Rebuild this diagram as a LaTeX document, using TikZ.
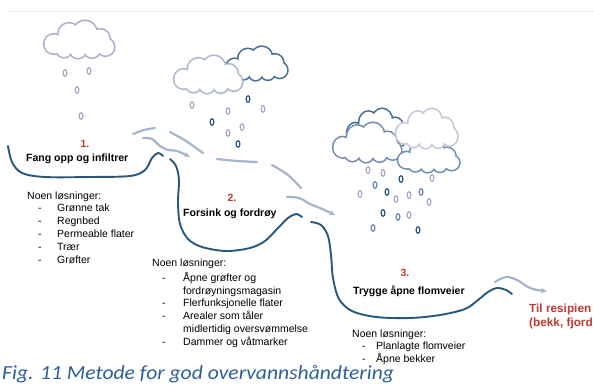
\documentclass[tikz,border=0pt]{standalone}
\usepackage{fontspec}
\setmainfont{Liberation Sans}
\newfontfamily\capfont{Carlito}
\usetikzlibrary{arrows.meta}

\definecolor{terrain}{RGB}{40,88,124}
\definecolor{flow}{RGB}{165,182,204}
\definecolor{redlbl}{RGB}{192,57,50}
\definecolor{capblue}{RGB}{46,96,150}
\definecolor{dropL}{RGB}{165,172,202}
\definecolor{dropM}{RGB}{106,138,178}
\definecolor{dropD}{RGB}{42,88,134}
\definecolor{cloudLight}{RGB}{170,176,204}
\definecolor{cloudPale}{RGB}{170,182,204}
\definecolor{cloudDark}{RGB}{72,110,148}
\definecolor{cloudMid}{RGB}{112,142,180}
\definecolor{cloudGrey}{RGB}{196,200,214}

\tikzset{
  terrainline/.style={draw=terrain, line width=1.9pt, line cap=round},
  flowline/.style={draw=flow, line width=2.2pt, line cap=round},
  flowarrow/.style={flowline, -{Stealth[length=6pt,width=5pt]}},
  raindrop/.style={draw=#1, line width=1.2pt},
  txt/.style={anchor=base west, inner sep=0pt, font=\fontsize{10.5}{12}\selectfont},
  btxt/.style={anchor=base west, inner sep=0pt, font=\fontsize{10.5}{12}\selectfont\bfseries},
  numlbl/.style={anchor=base, inner sep=0pt, text=redlbl, font=\fontsize{10.5}{12}\selectfont\bfseries},
  redtxt/.style={anchor=base west, inner sep=0pt, text=redlbl, font=\fontsize{11.8}{14}\selectfont\bfseries},
  % cloud outline: thick strokes of the puffs, then white fills leave the outer edge
  pics/cloud/.style={code={
    \foreach \cx/\cy/\rx/\ry in {11/24/9.5/9.5, 26/14/10.5/10.5, 42/12.5/11.5/11.5,
        57/19/9.5/9.5, 62.5/27/8.5/8.5, 49/30/7.5/7.5, 35/30.5/7.5/7.5, 21/29.5/7.5/7.5,
        36/22/20/9}
      \draw[line width=3.2pt] (\cx,\cy) ellipse[x radius=\rx, y radius=\ry];
    \foreach \cx/\cy/\rx/\ry in {11/24/9.5/9.5, 26/14/10.5/10.5, 42/12.5/11.5/11.5,
        57/19/9.5/9.5, 62.5/27/8.5/8.5, 49/30/7.5/7.5, 35/30.5/7.5/7.5, 21/29.5/7.5/7.5,
        36/22/20/9}
      \fill[white] (\cx,\cy) ellipse[x radius=\rx, y radius=\ry];
  }},
}

\begin{document}
\begin{tikzpicture}[x=1pt, y=-1pt]
\useasboundingbox (0,0) rectangle (594,385);
\clip (0,0) rectangle (594,385);
\fill[white] (0,0) rectangle (594,385);

% faint rule along the top
\draw[black!5, line width=0.8pt] (5,11) -- (594,11);

% clouds (base size 72 x 38)
\pic[color=cloudLight] at (43,20) {cloud};
\pic[color=cloudDark, xscale=63/72, yscale=34/38] at (225,46) {cloud};
\pic[color=cloudPale, xscale=70/72, yscale=38/38] at (173,55) {cloud};
\pic[color=cloudDark, xscale=62/72, yscale=40/38] at (346,108) {cloud};
\pic[color=cloudMid, xscale=70/72, yscale=40/38] at (332,122) {cloud};
\pic[color=cloudMid, xscale=63/72, yscale=32/38] at (397,140) {cloud};
\pic[color=cloudGrey, xscale=63/72, yscale=40/38] at (395,108) {cloud};

% rain drops
\foreach \x/\y/\c in {65/73/dropL, 89/71/dropL, 77/90/dropL, 81/116/dropL,
    192/105/dropL, 248/99/dropD, 263/109/dropL, 228/111/dropL, 212/122/dropD,
    242/127/dropL, 228/133/dropL, 238/144/dropD,
    368/170/dropL, 383/173/dropL, 401/179/dropD, 432/178/dropL, 375/185/dropM,
    360/194/dropL, 387/192/dropD, 396/199/dropL, 409/195/dropL, 421/192/dropM,
    429/202/dropL, 383/213/dropD, 398/217/dropM, 409/215/dropL, 373/228/dropM,
    418/230/dropD}
  \draw[raindrop=\c] (\x,\y) ellipse[x radius=1.9, y radius=3.3];

% terrain profile
\draw[terrainline] plot[smooth, tension=0.55] coordinates {
  (8,146) (12,162) (22,173) (45,177) (90,177) (130,176) (145,170) (152,158) (158,153) (163,156)};
\draw[terrainline] plot[smooth, tension=0.55] coordinates {
  (170,159) (176,166) (179,180) (178,202) (180,224) (188,239) (202,247) (226,251)
  (250,248) (265,241) (278,228) (288,218) (296,214) (302,217)};
\draw[terrainline] plot[smooth, tension=0.55] coordinates {
  (311,222) (321,225) (328,236) (331,255) (333,278) (339,299) (352,311) (376,317)
  (410,318) (440,315) (465,309) (478,300) (488,292) (497,288) (506,290) (512,294)};

% surface runoff
\draw[flowline] plot[smooth] coordinates {(133,134) (144,130) (155,128)};
\draw[flowarrow] plot[smooth, tension=0.6] coordinates {
  (143,138) (152,139) (160,146) (168,150) (177,151) (190,157)};
\draw[flowline] plot[smooth] coordinates {(170,132) (186,141) (203,153)};
\draw[flowline] plot[smooth] coordinates {(217,159) (237,161) (257,162)};
\draw[flowline] plot[smooth] coordinates {(272,165) (288,175) (301,188)};
\draw[flowarrow] plot[smooth, tension=0.6] coordinates {
  (287,197) (299,198) (310,204) (320,208) (335,215)};
\draw[flowarrow] plot[smooth, tension=0.6] coordinates {
  (495,282) (506,277) (517,280) (528,287) (537,290) (547,291)};

% step 1
\node[numlbl] (n1) at (85,147) {1.};
\node[btxt] (t1) at (26,161) {Fang opp og infiltrer};
\node[txt] (l1) at (27,199) {Noen løsninger:};
\foreach \y/\s [count=\i] in {211/Grønne tak, 224/Regnbed, 237/Permeable flater, 250/Trær, 263/Grøfter} {
  \node[txt] (l1d\i) at (38,\y) {-};
  \node[txt] (l1t\i) at (57,\y) {\s};
}

% step 2
\node[numlbl] (n2) at (232,201) {2.};
\node[btxt] (t2) at (183,216) {Forsink og fordrøy};
\node[txt] (l2) at (152,266) {Noen løsninger:};
\foreach \y in {281,306,319,345} \node[txt] at (162,\y) {-};
\node[txt] (l2a) at (183,281) {Åpne grøfter og};
\node[txt] (l2b) at (183,294) {fordrøyningsmagasin};
\node[txt] (l2c) at (183,306) {Flerfunksjonelle flater};
\node[txt] (l2d) at (183,319) {Arealer som tåler};
\node[txt] (l2e) at (183,332) {midlertidig oversvømmelse};
\node[txt] (l2f) at (183,345) {Dammer og våtmarker};

% step 3
\node[numlbl] (n3) at (405,276) {3.};
\node[btxt] (t3) at (353,294) {Trygge åpne flomveier};
\node[txt] (l3) at (352,337) {Noen løsninger:};
\node[txt] (l3d1) at (362,349) {-};
\node[txt] (l3t1) at (376,349) {Planlagte flomveier};
\node[txt] (l3d2) at (362,362) {-};
\node[txt] (l3t2) at (376,362) {Åpne bekker};

% outlet, running into the right edge
\node[redtxt] (out1) at (529,312) {Til resipien};
\node[redtxt] (out2) at (529,326) {(bekk, fjord};

% caption
\node[anchor=base west, inner sep=0pt, text=capblue] (cap) at (2,379)
  {\scalebox{1.08}[1]{\capfont\itshape\fontsize{20}{24}\selectfont Fig. 11 Metode for god overvannshåndtering}};
\end{tikzpicture}
\end{document}
